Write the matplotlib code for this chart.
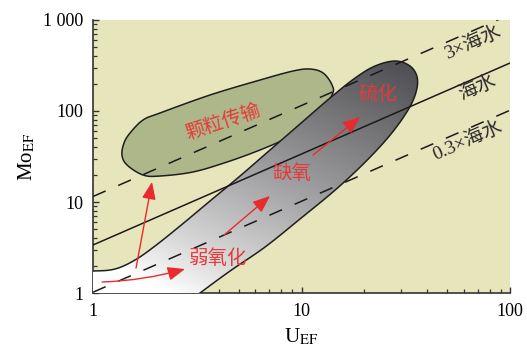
import numpy as np
import matplotlib
matplotlib.use('Agg')
import matplotlib.pyplot as plt
from matplotlib.patches import Polygon, FancyArrowPatch
from matplotlib.ticker import FixedLocator, FixedFormatter, NullFormatter

plt.rcParams['font.family'] = ['Liberation Serif', 'Noto Sans CJK SC']
plt.rcParams['mathtext.fontset'] = 'stix'

# ---------------- data ----------------
# Mo_EF / U_EF ratio lines
line_ratios = [11.5, 3.37, 1.02]
line_labels = ['3×海水', '海水', '0.3×海水']
line_dashed = [True, False, True]
line_label_x = [66.4, 69.5, 62.2]
line_label_y = [560, 180, 47]

# anoxic/euxinic field outline (data coords)
gray_x = [0.7, 1.0, 1.275, 1.59, 1.983, 2.614, 3.64, 5.07, 7.06, 9.83, 13.7,
          18.05, 22.5, 28.1, 33.1, 35.8, 35.4, 32.4, 26.6, 20.2, 14.5, 9.83,
          6.68, 4.54, 3.26, 2.76, 2.4, 0.7]
gray_y = [1.745, 1.745, 1.835, 2.305, 3.285, 5.45, 10.26, 19.3, 37.3, 72.0, 139,
          230, 312, 354, 312, 236, 162, 102.6, 54.5, 27.5, 13.55, 6.51,
          3.20, 1.745, 1.0, 0.738, 0.6, 0.6]

# particulate shuttle field outline (data coords)
shuttle_x = [1.377, 1.408, 1.505, 1.737, 2.096, 3.64, 6.32, 9.10, 10.98, 12.68,
             14.0, 14.0, 12.0, 9.83, 8.52, 6.32, 4.39, 3.02, 2.096, 1.737,
             1.456]
shuttle_y = [32.8, 44.5, 57.3, 79.6, 95.1, 149.9, 219, 275, 289, 261.6,
             193, 149.9, 90.4, 65.1, 50.5, 37.3, 27.5, 21.4, 19.3, 19.8,
             25.5]

# arrows
arrow_start = [(1.105, 1.32), (1.608, 1.883), (4.25, 4.34), (11.36, 32.8)]
arrow_end = [(2.76, 1.835), (1.918, 16.6), (7.06, 11.64), (19.08, 85.9)]
arrow_rad = [0.06, 0.0, 0.0, 0.0]

# zone labels
zone_labels = ['颗粒传输', '弱氧化', '缺氧', '硫化']
zone_x = [4.20, 3.98, 9.0, 23.3]
zone_y = [75.7, 2.42, 20.8, 150]
zone_rot = [18, 0, 0, 0]

x_ticks = [1, 10, 100]
x_ticklabels = ['1', '10', '100']
y_ticks = [1, 10, 100, 1000]
y_ticklabels = ['1', '10', '100', '1 000']

# ---------------- figure ----------------
W, H = 527, 347
fig = plt.figure(figsize=(W / 100, H / 100), dpi=100)
L, R, B, T = 0.1765, 0.968, 0.1556, 0.9424
ax = fig.add_axes([L, B, R - L, T - B])
ax.set_xscale('log')
ax.set_yscale('log')
bg = '#e7e5bb'
ax.set_facecolor(bg)
fig.patch.set_facecolor('white')

pxx = W * (R - L) / 2.0   # px per decade x
pxy = H * (T - B) / 3.0   # px per decade y


def smooth_closed(lx, ly, n=24):
    P = np.column_stack([lx, ly])
    N = len(P)
    out = []
    t = np.linspace(0, 1, n, endpoint=False)[:, None]
    for i in range(N):
        p0, p1, p2, p3 = P[i - 1], P[i], P[(i + 1) % N], P[(i + 2) % N]
        pts = 0.5 * ((2 * p1) + (-p0 + p2) * t + (2 * p0 - 5 * p1 + 4 * p2 - p3) * t ** 2
                     + (-p0 + 3 * p1 - 3 * p2 + p3) * t ** 3)
        out.append(pts)
    return np.vstack(out)


# particulate shuttle field
so = 10 ** smooth_closed(np.log10(shuttle_x), np.log10(shuttle_y))
olive = Polygon(so, closed=True, facecolor='#aeb78a',
                edgecolor='#1e1e1e', lw=1.1, zorder=2)
ax.add_patch(olive)

# gray field
sm = smooth_closed(np.log10(gray_x), np.log10(gray_y))
gpts = 10 ** sm
gpatch = Polygon(gpts, closed=True, facecolor='none', edgecolor='#1e1e1e',
                 lw=1.1, zorder=4)
ax.add_patch(gpatch)
clip = Polygon(gpts, closed=True, facecolor='none', edgecolor='none', transform=ax.transData)
ax.add_patch(clip)

ny, nx = 300, 300
gx, gy = np.meshgrid(np.linspace(0, 1, nx), np.linspace(0, 1, ny))
p0 = np.array([0.15, 0.03])
p1 = np.array([0.74, 0.84])
d = p1 - p0
tt = ((gx - p0[0]) * d[0] + (gy - p0[1]) * d[1]) / (d @ d)
tt = np.clip(tt, 0, 1) ** 0.85
c0 = np.array([1.0, 1.0, 1.0])
c1 = np.array([0x50, 0x4f, 0x53]) / 255.0
img = c0[None, None, :] * (1 - tt[..., None]) + c1[None, None, :] * tt[..., None]
im = ax.imshow(img, extent=(0, 1, 0, 1), origin='lower', transform=ax.transAxes,
               aspect='auto', zorder=3, interpolation='bilinear')
im.set_clip_path(clip)

# ratio lines
xl = np.array([1.0, 100.0])
for rr, dashed in zip(line_ratios, line_dashed):
    ax.plot(xl, rr * xl, color='#1a1a1a', lw=1.1,
            ls=(0, (9, 9)) if dashed else '-', zorder=5)

rot_line = np.degrees(np.arctan2(pxy, pxx))
for lab, lx_, ly_ in zip(line_labels, line_label_x, line_label_y):
    ax.text(lx_, ly_, lab, fontsize=14, color='#2a2a2a', rotation=rot_line,
            ha='center', va='center', rotation_mode='anchor', zorder=6)

# arrows
red = '#ea2a2c'
for (x0, y0), (x1, y1), rad in zip(arrow_start, arrow_end, arrow_rad):
    arr = FancyArrowPatch((x0, y0), (x1, y1),
                          arrowstyle='-|>,head_length=0.75,head_width=0.3',
                          mutation_scale=14, color=red, lw=1.0,
                          connectionstyle=f'arc3,rad={rad}',
                          shrinkA=0, shrinkB=0, zorder=7)
    ax.add_patch(arr)

for lab, zx, zy, zr in zip(zone_labels, zone_x, zone_y, zone_rot):
    ax.text(zx, zy, lab, fontsize=14, color='#e53a3a', rotation=zr,
            ha='center', va='center', rotation_mode='anchor', zorder=8,
            family=['Noto Sans CJK SC'], fontweight='light')

ax.set_xlim(1, 100)
ax.set_ylim(1, 1000)

for s in ['top', 'right']:
    ax.spines[s].set_visible(False)
for s in ['left', 'bottom']:
    ax.spines[s].set_linewidth(1.2)
    ax.spines[s].set_color('#333333')

ax.xaxis.set_major_locator(FixedLocator(x_ticks))
ax.xaxis.set_major_formatter(FixedFormatter(x_ticklabels))
ax.yaxis.set_major_locator(FixedLocator(y_ticks))
ax.yaxis.set_major_formatter(FixedFormatter(y_ticklabels))
ax.xaxis.set_minor_formatter(NullFormatter())
ax.yaxis.set_minor_formatter(NullFormatter())
ax.tick_params(which='major', direction='in', length=4.3, width=1.0, color='#333333',
               labelsize=13, pad=7)
ax.tick_params(which='minor', direction='in', length=2.8, width=0.9, color='#333333')

ax.set_xlabel('U$_{\\mathrm{EF}}$', fontsize=15, labelpad=5)
ax.set_ylabel('Mo$_{\\mathrm{EF}}$', fontsize=15, labelpad=4)

fig.savefig('out.png', dpi=100)
